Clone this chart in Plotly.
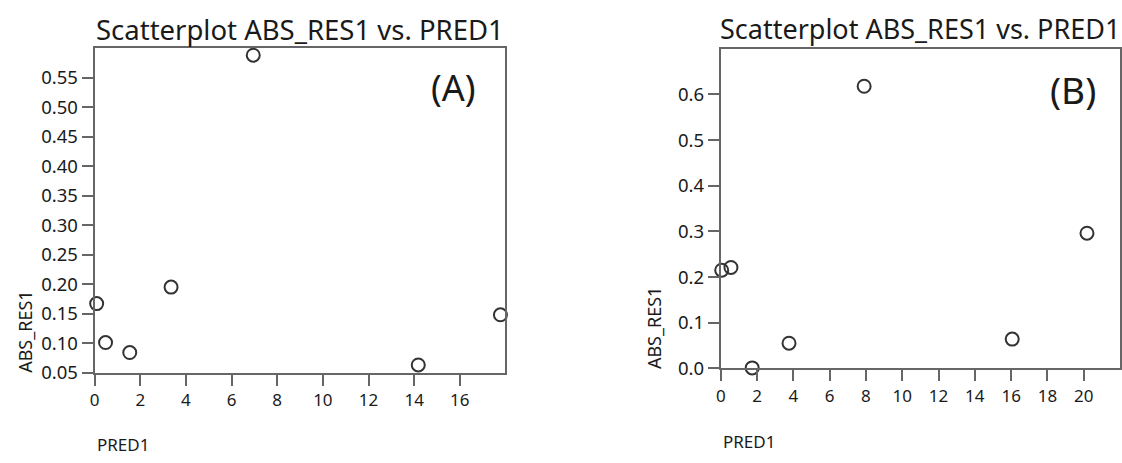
import plotly.graph_objects as go

# Panel A data
pred_a = [0.09, 0.48, 1.54, 3.35, 6.95, 14.18, 17.78]
absres_a = [0.167, 0.101, 0.084, 0.195, 0.588, 0.063, 0.148]
# Panel B data
pred_b = [0.05, 0.56, 1.73, 3.76, 7.9, 16.06, 20.18]
absres_b = [0.215, 0.221, 0.001, 0.055, 0.618, 0.064, 0.296]

xticks_a = [0, 2, 4, 6, 8, 10, 12, 14, 16]
yticks_a = [0.05, 0.10, 0.15, 0.20, 0.25, 0.30, 0.35, 0.40, 0.45, 0.50, 0.55]
xticks_b = [0, 2, 4, 6, 8, 10, 12, 14, 16, 18, 20]
yticks_b = [0.0, 0.1, 0.2, 0.3, 0.4, 0.5, 0.6]

title_text = "Scatterplot ABS_RES1 vs. PRED1"
W, H = 1122, 463
FONT = "Noto Sans"
TXT = "#1a1a1a"
AX = "#666666"

def px(x):
    return x / W

def py(y):
    return 1 - y / H

marker = dict(symbol="circle-open", size=13, color="#333333", line=dict(width=2, color="#333333"))

fig = go.Figure()
fig.add_trace(go.Scatter(x=pred_a, y=absres_a, mode="markers", marker=marker,
                         xaxis="x", yaxis="y", cliponaxis=False, showlegend=False))
fig.add_trace(go.Scatter(x=pred_b, y=absres_b, mode="markers", marker=marker,
                         xaxis="x2", yaxis="y2", cliponaxis=False, showlegend=False))

common = dict(showgrid=False, zeroline=False, showline=True, linecolor=AX, linewidth=2,
              mirror=True, ticks="outside", ticklen=11, tickwidth=2, tickcolor=AX)

def tf(size):
    return dict(size=size, family=FONT, color=TXT)

fig.update_layout(
    width=W, height=H,
    margin=dict(l=0, r=0, t=0, b=0),
    paper_bgcolor="white", plot_bgcolor="white",
    font=dict(family=FONT, color=TXT),
    xaxis=dict(domain=[px(90), px(502.7)], range=[0, 18], tickvals=xticks_a,
               tickfont=tf(17), anchor="y", **common),
    yaxis=dict(domain=[py(381.7), py(49.3)], range=[0.05, 0.6], tickvals=yticks_a,
               tickformat=".2f", tickfont=tf(18.5), anchor="x", **common),
    xaxis2=dict(domain=[px(719), px(1120)], range=[0, 22], tickvals=xticks_b,
                tickfont=tf(17), anchor="y2", **common),
    yaxis2=dict(domain=[py(377.3), py(50)], range=[0, 0.7], tickvals=yticks_b,
                tickformat=".1f", tickfont=tf(18.5), anchor="x2", **common),
)

def ann(text, x, y, size, angle=0, xanchor="center"):
    fig.add_annotation(text=text, x=px(x), y=py(y), xref="paper", yref="paper",
                       showarrow=False, xanchor=xanchor, yanchor="middle", textangle=angle,
                       font=tf(size))

ann(title_text, 296, 30, 27.5)
ann(title_text, 919.5, 29, 27)
ann("(A)", 451, 90, 36)
ann("(B)", 1072.5, 92, 37)
ann("ABS_RES1", 20, 340, 18, angle=-90)
ann("ABS_RES1", 652, 336, 18, angle=-90)
ann("PRED1", 90, 455, 17, xanchor="left")
ann("PRED1", 719, 452, 17, xanchor="left")

fig.write_html("out.html")
